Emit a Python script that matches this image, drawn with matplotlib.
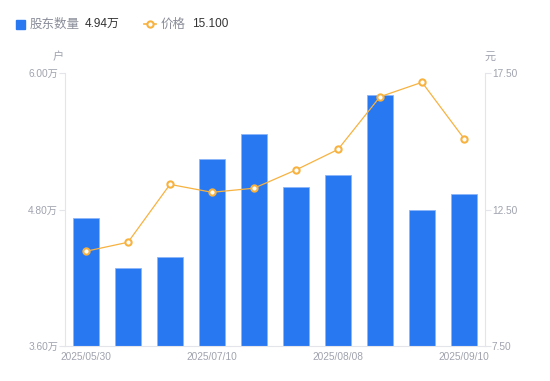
import matplotlib
matplotlib.use("Agg")
import matplotlib.pyplot as plt
from matplotlib.lines import Line2D

plt.rcParams['font.family'] = ['Liberation Sans', 'Noto Sans CJK SC', 'DejaVu Sans']

dates = ["2025/05/30", "2025/06/10", "2025/06/20", "2025/07/10", "2025/07/20",
         "2025/07/31", "2025/08/08", "2025/08/20", "2025/08/31", "2025/09/10"]
holders = [4.725, 4.286, 4.382, 5.244, 5.464, 4.998, 5.103, 5.807, 4.80, 4.94]  # 万户
price = [10.97, 11.30, 13.42, 13.13, 13.28, 13.95, 14.70, 16.63, 17.16, 15.10]
left_ticks = [3.60, 4.80, 6.00]
right_ticks = [7.50, 12.50, 17.50]
shown_idx = [0, 3, 6, 9]

BLUE = "#2878F2"
ORANGE = "#F7B240"
GRAY = "#A0A3AE"
AXIS = "#E3E5EA"
CJK = ['Noto Sans CJK SC', 'DejaVu Sans']

fig = plt.figure(figsize=(5.5, 3.81), dpi=100)
ax = fig.add_axes([65/550, 35/381, 420/550, 273/381])
x = list(range(len(dates)))
ax.bar(x, holders, width=0.6, color=BLUE, edgecolor="#8DB6F8", linewidth=0.6, zorder=2)
ax.set_xlim(-0.5, len(dates) - 0.5)
ax.set_ylim(left_ticks[0], left_ticks[-1])
ax.set_yticks(left_ticks)
ax.set_yticklabels([f"{v:.2f}万" for v in left_ticks])
ax.set_xticks([x[i] for i in shown_idx])
ax.set_xticklabels([dates[i] for i in shown_idx])

ax2 = ax.twinx()
ax2.plot(x, price, color=ORANGE, linewidth=0.9, marker="o", markersize=4.5,
         markerfacecolor="white", markeredgecolor=ORANGE, markeredgewidth=1.5, zorder=3)
ax2.set_ylim(right_ticks[0], right_ticks[-1])
ax2.set_yticks(right_ticks)
ax2.set_yticklabels([f"{v:.2f}" for v in right_ticks])

for a in (ax, ax2):
    for s in a.spines.values():
        s.set_visible(False)
ax.spines['left'].set_visible(True)
ax.spines['left'].set_color(AXIS)
ax.spines['bottom'].set_visible(True)
ax.spines['bottom'].set_color(AXIS)
ax2.spines['right'].set_visible(True)
ax2.spines['right'].set_color(AXIS)

ax.tick_params(axis='y', colors=AXIS, labelcolor=GRAY, labelsize=7.3, length=4, width=0.8, pad=1)
ax.tick_params(axis='x', length=0, labelcolor=GRAY, labelsize=7.3, pad=4)
ax2.tick_params(axis='y', colors=AXIS, labelcolor=GRAY, labelsize=7.3, length=4, width=0.8, pad=1)

fig.text(58/550, 1 - 57/381, "户", color=GRAY, fontsize=8, ha="center", va="center", family=CJK)
fig.text(490/550, 1 - 57/381, "元", color=GRAY, fontsize=8, ha="center", va="center", family=CJK)

# legend
fig.patches.append(plt.Rectangle((16/550, 1 - 29/381), 9/550, 9/381, transform=fig.transFigure,
                                 color=BLUE, figure=fig))
fig.text(30/550, 1 - 24/381, "股东数量", color="#8A8D99", fontsize=9, va="center", ha="left", family=CJK)
fig.text(85/550, 1 - 24/381, "4.94万", color="#333333", fontsize=8.5, va="center", ha="left")
fig.lines.append(Line2D([144/550, 156/550], [1 - 24/381, 1 - 24/381], transform=fig.transFigure,
                        color=ORANGE, linewidth=1.2, figure=fig))
fig.lines.append(Line2D([150/550], [1 - 24/381], transform=fig.transFigure, color=ORANGE,
                        marker="o", markersize=4.5, markerfacecolor="white",
                        markeredgewidth=1.5, linestyle="none", figure=fig))
fig.text(161/550, 1 - 24/381, "价格", color="#8A8D99", fontsize=9, va="center", ha="left", family=CJK)
fig.text(192/550, 1 - 24/381, "15.100", color="#333333", fontsize=8.5, va="center", ha="left")

fig.savefig("out.png", dpi=100)
